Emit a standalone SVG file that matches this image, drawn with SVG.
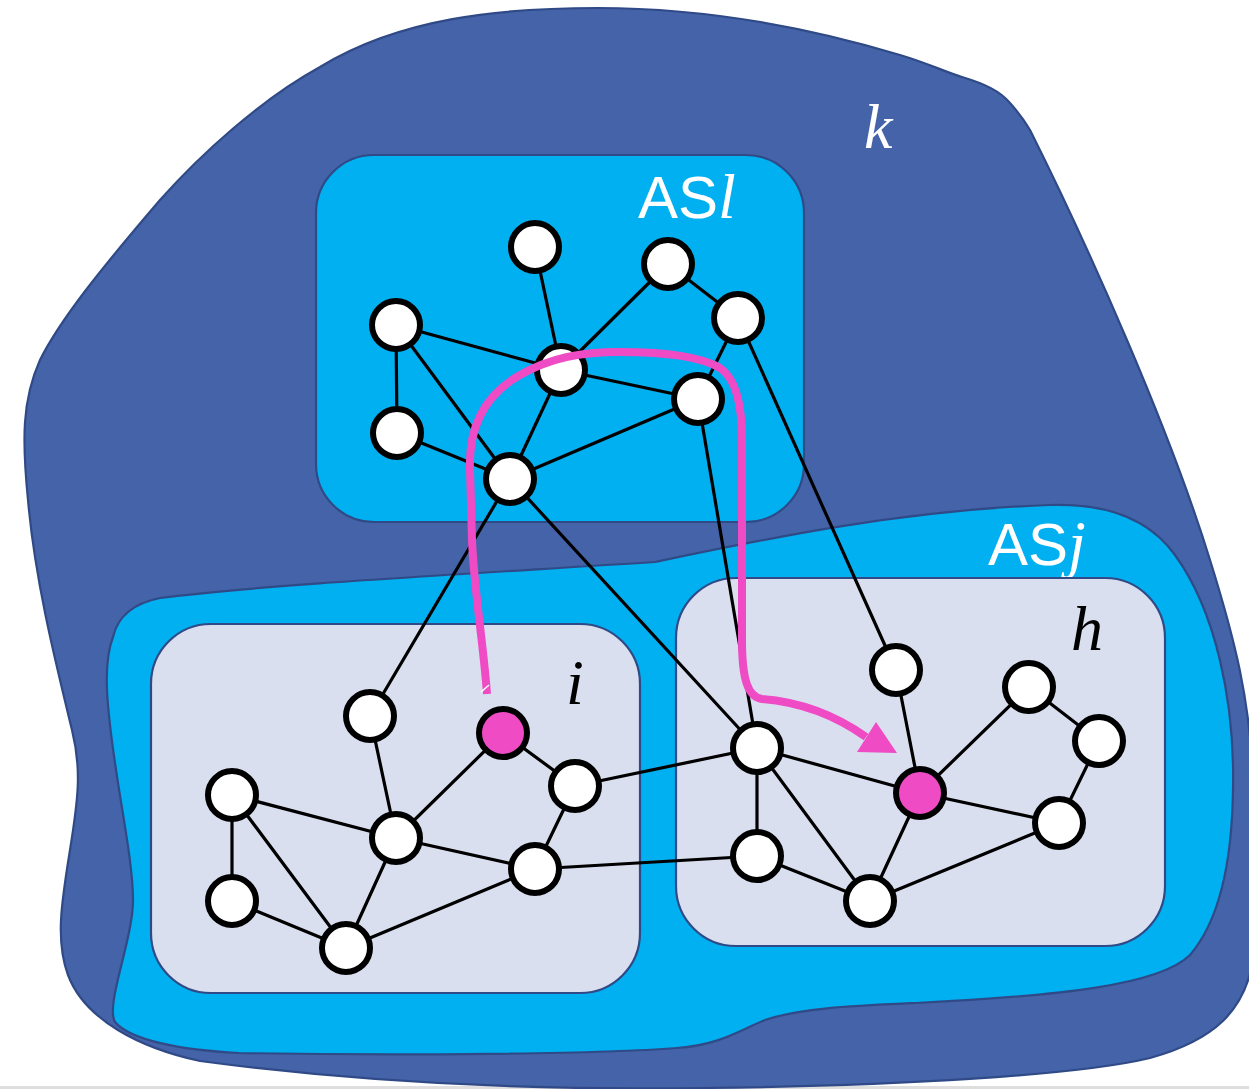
<svg xmlns="http://www.w3.org/2000/svg" width="1249" height="1089" viewBox="0 0 1249 1089">
  <style>
    .region { stroke: #2F4A86; stroke-width: 2.2; stroke-linejoin: round; }
    .as-k { fill: #4563A9; }
    .as-cyan { fill: #00B0F0; }
    .sub { fill: #DADFEF; }
    .edge { stroke: #000; stroke-width: 3.2; fill: none; stroke-linecap: round; }
    .router { fill: #fff; stroke: #000; stroke-width: 6; }
    .router.hot { fill: #EE4BC5; }
    .route { fill: none; stroke: #EE4BC5; stroke-width: 8; stroke-linecap: butt; stroke-linejoin: round; }
    .math { font-family: "Liberation Serif", "DejaVu Serif", serif; font-style: italic; font-size: 64px; }
    .asname { font-family: "Liberation Sans", Arial, sans-serif; font-size: 60px; fill: #fff; }
  </style>

  <!-- base page rule at the bottom edge -->
  <rect x="0" y="1086" width="1249" height="3" fill="#DEDEDE"/>

  <!-- AS k: outer freeform -->
  <g id="as-k">
    <path class="region as-k" d="M 598 8 C 700 8 800 25 900 55 C 930 64 945 72 962 77 C 985 84 1000 91 1010 103 C 1018 112 1024 120 1030 130 C 1090 250 1170 430 1210 560 C 1235 640 1250 700 1253 780 L 1253 960 C 1245 1010 1215 1040 1150 1058 C 1080 1075 900 1086 700 1088 C 560 1090 380 1085 200 1061 C 140 1048 85 1020 68 975 C 55 940 62 900 70 850 C 78 800 82 770 72 730 C 55 660 35 580 28 500 C 22 440 22 400 40 360 C 60 320 100 270 160 200 C 200 155 260 100 320 67 C 400 18 500 8 598 8 Z"/>
    <text class="math" x="864" y="148" fill="#fff">k</text>
  </g>

  <!-- AS j: lower freeform -->
  <g id="as-j">
    <path class="region as-cyan" d="M 113 637 C 118 615 135 603 160 598 C 260 585 450 575 655 562 C 760 540 900 510 1050 505 C 1110 503 1150 520 1175 555 C 1215 610 1235 700 1233 790 C 1232 860 1220 920 1190 955 C 1160 985 1060 996 916 1003 C 850 1006 800 1008 765 1020 C 740 1030 720 1045 677 1048 C 600 1054 400 1056 239 1053 C 180 1050 130 1040 115 1022 C 105 1005 133 940 133 900 C 133 850 110 760 107 690 C 106 665 108 650 113 637 Z"/>
    <text class="asname" x="988" y="565">AS<tspan class="math" font-size="62">j</tspan></text>
  </g>

  <!-- AS l -->
  <g id="as-l">
    <rect class="region as-cyan" x="316" y="155" width="488" height="367" rx="58" ry="58"/>
    <text class="asname" x="638" y="218">AS<tspan class="math" font-size="62">l</tspan></text>
  </g>

  <!-- subnetworks i and h inside AS j -->
  <g id="net-i">
    <rect class="region sub" x="151" y="624" width="489" height="369" rx="60" ry="60"/>
    <text class="math" x="566" y="704" fill="#000">i</text>
  </g>
  <g id="net-h">
    <rect class="region sub" x="676" y="578" width="489" height="368" rx="60" ry="60"/>
    <text class="math" x="1071" y="650" fill="#000">h</text>
  </g>

  <!-- links -->
  <g id="links">
    <!-- AS l -->
    <line class="edge" x1="535" y1="247" x2="561" y2="370"/>
    <line class="edge" x1="668" y1="264" x2="561" y2="370"/>
    <line class="edge" x1="668" y1="264" x2="738" y2="318"/>
    <line class="edge" x1="396" y1="325" x2="561" y2="370"/>
    <line class="edge" x1="396" y1="325" x2="397" y2="433"/>
    <line class="edge" x1="396" y1="325" x2="510" y2="479"/>
    <line class="edge" x1="397" y1="433" x2="510" y2="479"/>
    <line class="edge" x1="561" y1="370" x2="698" y2="399"/>
    <line class="edge" x1="561" y1="370" x2="510" y2="479"/>
    <line class="edge" x1="698" y1="399" x2="510" y2="479"/>
    <line class="edge" x1="738" y1="318" x2="698" y2="399"/>
    <!-- inter-AS -->
    <line class="edge" x1="738" y1="318" x2="896" y2="670"/>
    <line class="edge" x1="698" y1="399" x2="757" y2="748"/>
    <line class="edge" x1="510" y1="479" x2="757" y2="748"/>
    <line class="edge" x1="510" y1="479" x2="370" y2="716"/>
    <line class="edge" x1="575" y1="786" x2="757" y2="748"/>
    <line class="edge" x1="535" y1="869" x2="757" y2="856"/>
    <!-- subnet i -->
    <line class="edge" x1="370" y1="716" x2="396" y2="838"/>
    <line class="edge" x1="503" y1="733" x2="396" y2="838"/>
    <line class="edge" x1="503" y1="733" x2="575" y2="786"/>
    <line class="edge" x1="232" y1="795" x2="396" y2="838"/>
    <line class="edge" x1="232" y1="795" x2="232" y2="901"/>
    <line class="edge" x1="232" y1="795" x2="346" y2="948"/>
    <line class="edge" x1="232" y1="901" x2="346" y2="948"/>
    <line class="edge" x1="396" y1="838" x2="535" y2="869"/>
    <line class="edge" x1="396" y1="838" x2="346" y2="948"/>
    <line class="edge" x1="535" y1="869" x2="346" y2="948"/>
    <line class="edge" x1="575" y1="786" x2="535" y2="869"/>
    <!-- subnet h -->
    <line class="edge" x1="896" y1="670" x2="920" y2="793"/>
    <line class="edge" x1="1029" y1="687" x2="920" y2="793"/>
    <line class="edge" x1="1029" y1="687" x2="1099" y2="741"/>
    <line class="edge" x1="757" y1="748" x2="920" y2="793"/>
    <line class="edge" x1="757" y1="748" x2="757" y2="856"/>
    <line class="edge" x1="757" y1="748" x2="870" y2="901"/>
    <line class="edge" x1="757" y1="856" x2="870" y2="901"/>
    <line class="edge" x1="920" y1="793" x2="1059" y2="823"/>
    <line class="edge" x1="920" y1="793" x2="870" y2="901"/>
    <line class="edge" x1="1059" y1="823" x2="870" y2="901"/>
    <line class="edge" x1="1099" y1="741" x2="1059" y2="823"/>
  </g>

  <!-- routers in AS l -->
  <g id="l1"><circle class="router" cx="535" cy="247" r="24"/></g>
  <g id="l2"><circle class="router" cx="668" cy="264" r="24"/></g>
  <g id="l3"><circle class="router" cx="738" cy="318" r="24"/></g>
  <g id="l4"><circle class="router" cx="396" cy="325" r="24"/></g>
  <g id="l5"><circle class="router" cx="561" cy="370" r="24"/></g>
  <g id="l6"><circle class="router" cx="698" cy="399" r="24"/></g>
  <g id="l7"><circle class="router" cx="397" cy="433" r="24"/></g>
  <g id="l8"><circle class="router" cx="510" cy="479" r="24"/></g>

  <!-- routers in subnet i -->
  <g id="i1"><circle class="router" cx="370" cy="716" r="24"/></g>
  <g id="i2"><circle class="router hot" cx="503" cy="733" r="24"/></g>
  <g id="i3"><circle class="router" cx="575" cy="786" r="24"/></g>
  <g id="i4"><circle class="router" cx="232" cy="795" r="24"/></g>
  <g id="i5"><circle class="router" cx="396" cy="838" r="24"/></g>
  <g id="i6"><circle class="router" cx="535" cy="869" r="24"/></g>
  <g id="i7"><circle class="router" cx="232" cy="901" r="24"/></g>
  <g id="i8"><circle class="router" cx="346" cy="948" r="24"/></g>

  <!-- routers in subnet h -->
  <g id="h1"><circle class="router" cx="896" cy="670" r="24"/></g>
  <g id="h2"><circle class="router" cx="1029" cy="687" r="24"/></g>
  <g id="h3"><circle class="router" cx="1099" cy="741" r="24"/></g>
  <g id="h4"><circle class="router" cx="757" cy="748" r="24"/></g>
  <g id="h5"><circle class="router hot" cx="920" cy="793" r="24"/></g>
  <g id="h6"><circle class="router" cx="1059" cy="823" r="24"/></g>
  <g id="h7"><circle class="router" cx="757" cy="856" r="24"/></g>
  <g id="h8"><circle class="router" cx="870" cy="901" r="24"/></g>

  <!-- forwarding path from i to h through AS l -->
  <g id="route">
    <path class="route" d="M 487 694 C 483 640 474 590 472 540 L 470 470 C 468 420 490 392 520 375 C 550 358 580 352 620 352 C 660 352 700 356 720 368 C 738 380 742 410 742 440 L 742 640 C 742 680 748 697 762 699 C 800 702 835 715 866 737"/>
    <polygon points="897,753 857,752 876,722" fill="#EE4BC5"/>
    <line x1="481" y1="692" x2="489" y2="685" stroke="#fff" stroke-width="1.5"/>
  </g>
</svg>
